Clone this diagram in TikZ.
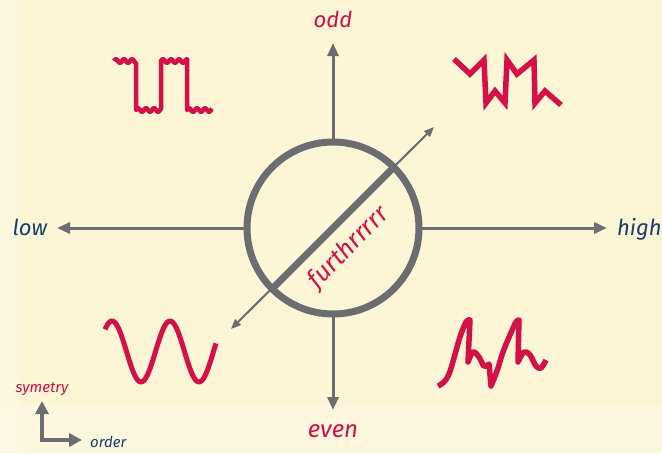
\documentclass[tikz,border=0pt]{standalone}
\usepackage{fontspec}
\setmainfont{Fira Sans}
\usetikzlibrary{arrows.meta}
\definecolor{crim}{RGB}{212,16,70}
\definecolor{navy}{RGB}{22,62,108}
\definecolor{axgray}{RGB}{108,109,112}
\definecolor{creambg}{RGB}{252,245,214}
\definecolor{creamlt}{RGB}{254,249,230}
\begin{document}
\begin{tikzpicture}[x=1pt,y=-1pt,
  axis/.style={draw=axgray, line width=3pt, -{Triangle[length=13pt,width=11pt]}},
  diag/.style={draw=axgray, line width=2pt, {Triangle[length=10pt,width=8pt]}-{Triangle[length=10pt,width=8pt]}},
  ring/.style={circle, draw=axgray, line width=7pt, minimum size=172pt, inner sep=0pt, outer sep=0pt},
  bar/.style={draw=axgray, line width=7pt},
  wave/.style={draw=crim, line width=5pt, line join=round},
  zig/.style={draw=crim, line width=5.5pt, line join=miter, miter limit=10},
  mini/.style={draw=axgray, line width=4.5pt, line join=miter, {Triangle[length=13pt,width=13pt]}-{Triangle[length=13pt,width=13pt]}},
  biglbl/.style={font=\itshape\fontsize{22}{24}\selectfont, inner sep=0pt},
  smalllbl/.style={font=\itshape\fontsize{15}{17}\selectfont, inner sep=0pt},
]
\useasboundingbox (0,0) rectangle (662,453);
\fill[creambg] (0,0) rectangle (662,453);
% faint, soft background variation
\fill[creamlt, opacity=0.6] (0,0) rectangle (20,453);
\fill[creamlt, opacity=0.6] (0,405) rectangle (662,453);

% centre ring
\node[ring] (c) at (333,228) {};
\coordinate (tN) at (333,43);
\coordinate (tS) at (333,410);
\coordinate (tW) at (57,228);
\coordinate (tE) at (607,228);
\coordinate (dNE) at (434,127);
\coordinate (dSW) at (231,329);

\draw[diag] (dSW) -- (dNE);
\draw[bar] (c.45) -- (c.225);
\draw[axis] (c.north) -- (tN);
\draw[axis] (c.south) -- (tS);
\draw[axis] (c.west) -- (tW);
\draw[axis] (c.east) -- (tE);

\node[biglbl, text=crim, rotate=46, font=\itshape\fontsize{25}{27}\selectfont] (fur) at (349,248) {furthrrrrr};

% labels
\node[biglbl, text=crim, anchor=base] (odd) at (333,27) {odd};
\node[biglbl, text=crim, anchor=base, font=\itshape\fontsize{24}{26}\selectfont] (even) at (333,437) {even};
\node[biglbl, text=navy, anchor=base] (low) at (30,235) {low};
\node[biglbl, text=navy, anchor=base west] (high) at (617,235) {high};
\node[smalllbl, text=crim, anchor=base] (sym) at (42,392) {symetry};
\node[smalllbl, text=navy, anchor=base west] (ord) at (90,447) {order};

% small axes icon
\coordinate (oy) at (42,401);
\coordinate (o) at (42,440);
\coordinate (ox) at (82,440);
\draw[mini] (oy) -- (o) -- (ox);

% top-left: square wave with ripple
\draw[wave, line width=4.5pt]
  plot[domain=114:136, samples=40, smooth] (\x,{61-1.8*sin(45*(\x-114))})
  -- plot[domain=136:161, samples=40, smooth] (\x,{110-1.8*sin(45*(\x-136))})
  -- plot[domain=161:187, samples=40, smooth] (\x,{61-1.8*sin(45*(\x-161))})
  -- plot[domain=187:212, samples=40, smooth] (\x,{110-1.8*sin(45*(\x-187))});

% top-right: zigzag
\draw[zig] (454,59) -- (470,74) -- (484,60) -- (486,103) -- (495,91) -- (505,103)
  -- (507,60) -- (517,74) -- (534,60) -- (535,103) -- (545,91) -- (561,105);

% bottom-left: sine
\draw[wave]
  plot[domain=105:216, samples=90, smooth] (\x,{351.5-30.5*cos(6.2069*(\x-112))});

% bottom-right: irregular wave
\draw[wave, line width=5.5pt]
  plot[smooth, tension=0.6] coordinates {(438,386) (444,382) (449,374) (454,358) (460,337) (466,322) (470,320)}
  -- (468,362)
  -- plot[smooth, tension=0.6] coordinates {(468,362) (473,352) (479,357) (484,366) (489,364)}
  -- (491,386)
  -- plot[smooth, tension=0.6] coordinates {(491,386) (497,371) (503,352) (510,335) (516,322) (519,320)}
  -- (518,362)
  -- plot[smooth, tension=0.6] coordinates {(518,362) (524,352) (530,355) (536,366) (541,368) (546,360)};
\end{tikzpicture}
\end{document}
